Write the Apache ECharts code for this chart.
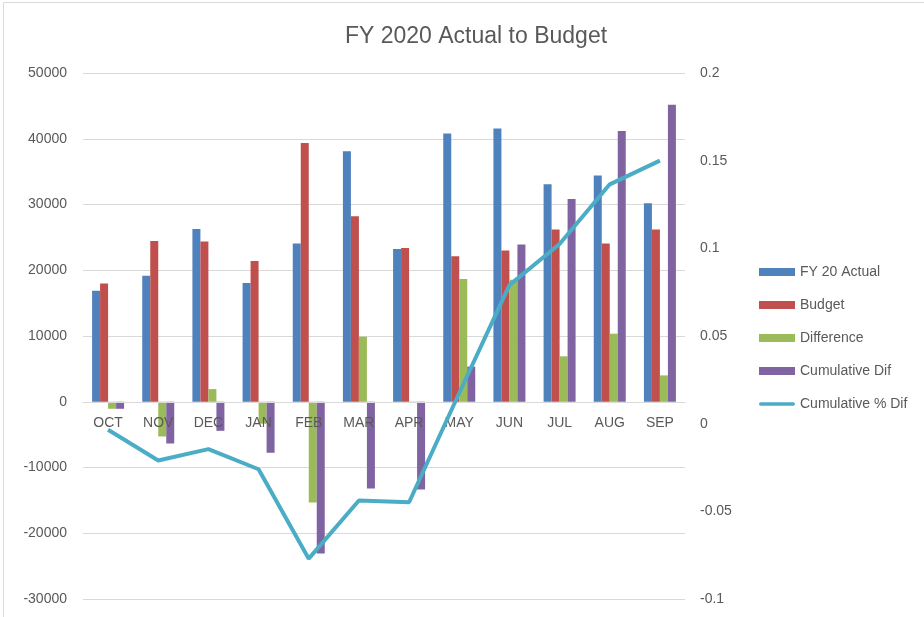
<!DOCTYPE html>
<html>
<head>
<meta charset="utf-8">
<script src="https://cdn.jsdelivr.net/npm/echarts@6/dist/echarts.min.js"></script>
<style>
  html, body { margin: 0; padding: 0; background: #fff; }
  #chart { width: 924px; height: 617px; }
</style>
</head>
<body>
<div id="chart"></div>
<script>
const months = ["OCT", "NOV", "DEC", "JAN", "FEB", "MAR", "APR", "MAY", "JUN", "JUL", "AUG", "SEP"]
const actual = [16900, 19180, 26290, 18070, 24050, 38110, 23240, 40800, 41560, 33090, 34400, 30190]
const budget = [17970, 24460, 24360, 21410, 39370, 28210, 23390, 22130, 22990, 26180, 24050, 26180]
const difference = [-1070, -5280, 1930, -3340, -15320, 9900, -150, 18670, 18570, 6910, 10350, 4010]
const cumulativeDif = [-1070, -6350, -4420, -7760, -23080, -13180, -13330, 5340, 23910, 30820, 41170, 45180]
const cumulativePct = [-0.0035, -0.021, -0.0145, -0.026, -0.077, -0.0438, -0.0448, 0.0175, 0.079, 0.1025, 0.1365, 0.15]

const textColor = "#595959"
const gridColor = "#d9d9d9"
const font = "'Liberation Sans', Arial, sans-serif"

const gridTop = 73
const gridBottom = 18
const plotHeight = 617 - gridTop - gridBottom
// the category axis sits on the left axis zero line (3 of 8 intervals above the bottom)
const zeroOffset = -plotHeight * 3 / 8

const chart = echarts.init(document.getElementById("chart"), null, { renderer: "canvas" })

function barSeries(name, color, data) {
  return {
    name,
    type: "bar",
    barWidth: 8,
    barGap: "0%",
    itemStyle: { color },
    data
  }
}

chart.setOption({
  animation: false,
  textStyle: { fontFamily: font },
  title: {
    text: "FY 2020 Actual to Budget",
    left: 471,
    top: 20,
    textAlign: "center",
    textStyle: { color: textColor, fontSize: 23, fontWeight: "normal", fontFamily: font }
  },
  graphic: [
    {
      type: "rect",
      shape: { x: 3.5, y: 2.5, width: 940, height: 640 },
      style: { fill: "none", stroke: "#d9d9d9", lineWidth: 1 },
      silent: true
    }
  ],
  legend: {
    orient: "vertical",
    left: 754,
    top: 260,
    itemWidth: 36,
    itemHeight: 8,
    itemGap: 19,
    textStyle: { color: textColor, fontSize: 14, fontFamily: font },
    data: [
      { name: "FY 20 Actual", icon: "rect" },
      { name: "Budget", icon: "rect" },
      { name: "Difference", icon: "rect" },
      { name: "Cumulative Dif", icon: "rect" },
      { name: "Cumulative % Dif", icon: "path://M2,0 h36 a2,2 0 0 1 0,4 h-36 a2,2 0 0 1 0,-4 z" }
    ]
  },
  grid: { left: 83, right: 239, top: gridTop, bottom: gridBottom, containLabel: false, outerBoundsMode: "none" },
  xAxis: {
    type: "category",
    data: months,
    offset: zeroOffset,
    z: 3,
    axisLine: { onZero: false, lineStyle: { color: gridColor } },
    axisTick: { show: false },
    axisLabel: { color: textColor, fontSize: 14, margin: 14, fontFamily: font }
  },
  yAxis: [
    {
      type: "value",
      min: -30000,
      max: 50000,
      interval: 10000,
      axisLine: { show: false },
      axisTick: { show: false },
      axisLabel: { color: textColor, fontSize: 14, margin: 16, fontFamily: font, formatter: v => String(v) },
      splitLine: { lineStyle: { color: gridColor, width: 1 } }
    },
    {
      type: "value",
      min: -0.1,
      max: 0.2,
      interval: 0.05,
      axisLine: { show: false },
      axisTick: { show: false },
      splitLine: { show: false },
      axisLabel: {
        color: textColor,
        fontSize: 14,
        margin: 15,
        fontFamily: font,
        formatter: v => String(Math.round(v * 100) / 100)
      }
    }
  ],
  series: [
    barSeries("FY 20 Actual", "#4f81bd", actual),
    barSeries("Budget", "#c0504d", budget),
    barSeries("Difference", "#9bbb59", difference),
    barSeries("Cumulative Dif", "#8064a2", cumulativeDif),
    {
      name: "Cumulative % Dif",
      type: "line",
      yAxisIndex: 1,
      z: 4,
      symbol: "none",
      lineStyle: { color: "#4bacc6", width: 4 },
      itemStyle: { color: "#4bacc6" },
      data: cumulativePct
    }
  ]
})
</script>
</body>
</html>
